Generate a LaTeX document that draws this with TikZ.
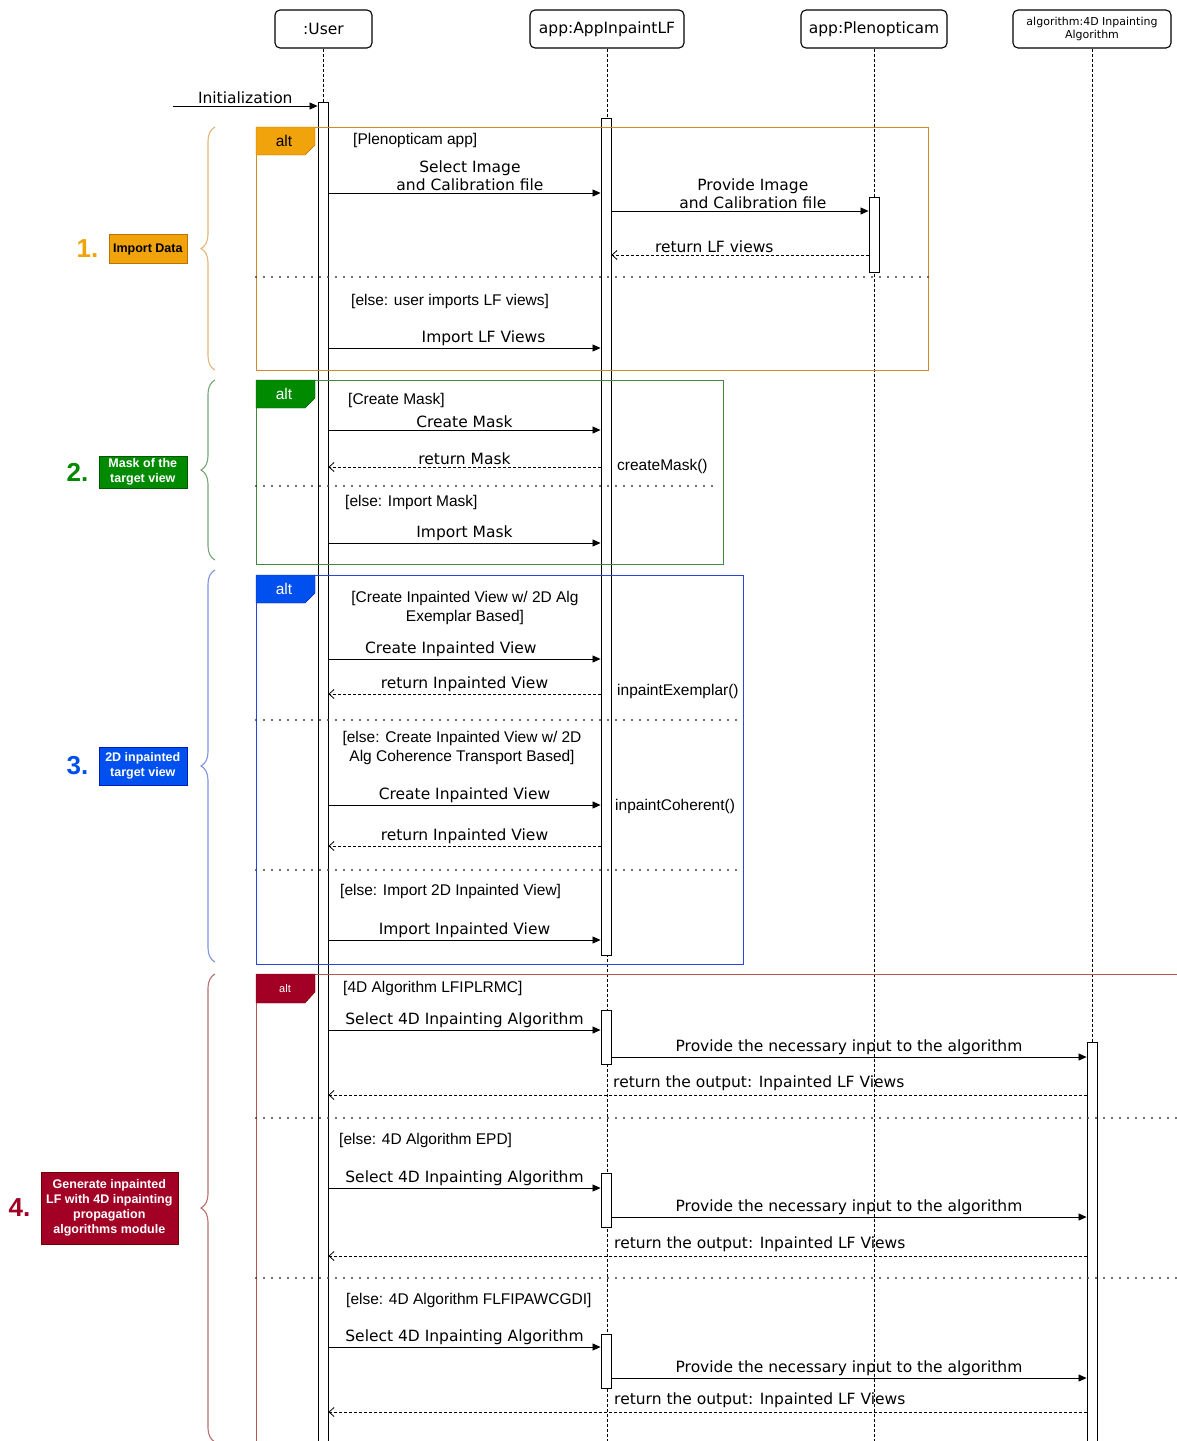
\documentclass[tikz,border=0pt]{standalone}
\usepackage{fontspec}
\setmainfont{DejaVu Sans}
\newfontfamily\arialfont{Liberation Sans}
\usetikzlibrary{arrows.meta,decorations.pathreplacing,positioning}

\definecolor{orgfill}{HTML}{F0A30A}
\definecolor{orgtab}{HTML}{BD7000}
\definecolor{orgline}{HTML}{D08A2A}
\definecolor{orgbrace}{HTML}{E2B677}
\definecolor{grnfill}{HTML}{008A00}
\definecolor{grntab}{HTML}{005700}
\definecolor{grnline}{HTML}{3F8A3F}
\definecolor{grnbrace}{HTML}{76A676}
\definecolor{blufill}{HTML}{0050EF}
\definecolor{blutab}{HTML}{001DBC}
\definecolor{bluline}{HTML}{2A45D8}
\definecolor{blubrace}{HTML}{7F93E2}
\definecolor{redfill}{HTML}{A20025}
\definecolor{redtab}{HTML}{6F0000}
\definecolor{redline}{HTML}{B85450}
\definecolor{redbrace}{HTML}{B87070}

\tikzset{
  head/.style={draw, line width=1.1pt, rounded corners=5pt, minimum height=38pt, inner sep=2pt,
    font=\fontsize{15.5}{18}\selectfont},
  life/.style={dash pattern=on 3pt off 2pt, line width=0.7pt},
  act/.style={draw, fill=white, minimum width=10pt, inner sep=0pt, line width=0.9pt},
  msg/.style={line width=0.8pt, -{Triangle[length=8pt,width=7pt]}},
  ret/.style={line width=0.8pt, dash pattern=on 3pt off 2pt, -{Straight Barb[length=5pt,width=9pt]}},
  lbl/.style={font=\fontsize{15.5}{18}\selectfont, align=center, inner sep=2pt},
  grd/.style={font=\arialfont\fontsize{15.5}{19.5}\selectfont, align=center, inner sep=0pt},
  sep/.style={line width=2.2pt, dash pattern=on 0pt off 8pt, line cap=round, black!75},
  frame/.style={line width=0.8pt},
  tab/.style={font=\arialfont\fontsize{15.5}{18}\selectfont},
  groupbox/.style={font=\arialfont\bfseries\fontsize{12.5}{15}\selectfont, align=center,
    inner sep=2pt, text=white, anchor=east},
  num/.style={font=\arialfont\bfseries\fontsize{26}{30}\selectfont, inner sep=0pt},
  grpbrace/.style={decorate, decoration={brace, amplitude=14pt}, line width=1.1pt},
}

\begin{document}
\begin{tikzpicture}[x=1pt, y=-1pt]
	\path[use as bounding box] (0,0) rectangle (1177,1441);
	\clip (0,0) rectangle (1177,1441);

	% lifeline heads
	\node[head, minimum width=97pt] (user) at (323.5,29) {:User};
	\node[head, minimum width=154pt] (app) at (607,29) {app:AppInpaintLF};
	\node[head, minimum width=146pt] (pleno) at (874,29) {app:Plenopticam};
	\node[head, minimum width=158pt, font=\fontsize{11}{13}\selectfont, align=center] (algo) at (1092,29) {algorithm:4D Inpainting\\Algorithm};

	\foreach \h in {user,app,pleno,algo}
		\draw[life] (\h.south) -- (\h.south |- 0,1450);

	% activation bars
	\node[act, anchor=north, minimum height=1350pt] (ua) at (323,102) {};
	\node[act, anchor=north, minimum height=837pt] (aa) at (606,118) {};
	\node[act, anchor=north, minimum height=75pt] (pa) at (874,197) {};
	\node[act, anchor=north, minimum height=410pt] (ga) at (1092,1042) {};
	\node[act, anchor=north, minimum height=54pt] (aa1) at (606,1010) {};
	\node[act, anchor=north, minimum height=54pt] (aa2) at (606,1173) {};
	\node[act, anchor=north, minimum height=54pt] (aa3) at (606,1334) {};

	% frames
	\draw[frame, orgline] (256,127) rectangle (928,370);
	\draw[frame, grnline] (256,380) rectangle (723,564);
	\draw[frame, bluline] (256,575) rectangle (743,964);
	\draw[frame, redline] (1190,974) -- (256,974) -- (256,1450);

	\filldraw[fill=orgfill, draw=orgtab] (256,127) -- (315,127) -- (315,145) -- (305,155) -- (256,155) -- cycle;
	\node[tab] at (284,141) {alt};
	\filldraw[fill=grnfill, draw=grntab] (256,380) -- (315,380) -- (315,398) -- (305,408) -- (256,408) -- cycle;
	\node[tab, text=white] at (284,394) {alt};
	\filldraw[fill=blufill, draw=blutab] (256,575) -- (315,575) -- (315,593) -- (305,603) -- (256,603) -- cycle;
	\node[tab, text=white] at (284,589) {alt};
	\filldraw[fill=redfill, draw=redtab] (256,974) -- (315,974) -- (315,992) -- (305,1003) -- (256,1003) -- cycle;
	\node[tab, text=white, font=\arialfont\fontsize{11}{13}\selectfont] at (285,988.5) {alt};

	\draw[sep] (256,277) -- (928,277);
	\draw[sep] (256,486) -- (718,486);
	\draw[sep] (256,720) -- (737,720);
	\draw[sep] (256,870) -- (737,870);
	\draw[sep] (256,1118) -- (1177,1118);
	\draw[sep] (256,1278) -- (1177,1278);

	% guards
	\node[grd, anchor=west] at (353,140) {[Plenopticam app]};
	\node[grd, anchor=west] at (351,301) {[else: user imports LF views]};
	\node[grd, anchor=west] at (348,400) {[Create Mask]};
	\node[grd, anchor=west] at (345,502) {[else: Import Mask]};
	\node[grd] at (465,608) {[Create Inpainted View w/ 2D Alg\\Exemplar Based]};
	\node[grd] at (462,748) {[else: Create Inpainted View w/ 2D\\Alg Coherence Transport Based]};
	\node[grd, anchor=west] at (340,891) {[else: Import 2D Inpainted View]};
	\node[grd, anchor=west] at (343,988) {[4D Algorithm LFIPLRMC]};
	\node[grd, anchor=west] at (339,1140) {[else: 4D Algorithm EPD]};
	\node[grd, anchor=west] at (346,1300) {[else: 4D Algorithm FLFIPAWCGDI]};

	\node[grd, anchor=west] at (617,466) {createMask()};
	\node[grd, anchor=west] at (617,691) {inpaintExemplar()};
	\node[grd, anchor=west] at (615,806) {inpaintCoherent()};

	% messages
	\coordinate (init) at (173,106);
	\draw[msg] (init) -- (ua.west |- init) node[lbl, midway, above] {Initialization};

	\draw[msg] (ua.east |- 0,193) -- (aa.west |- 0,193) node[lbl, pos=0.52, above] {Select Image\\and Calibration file};
	\draw[msg] (aa.east |- 0,211) -- (pa.west |- 0,211) node[lbl, pos=0.55, above] {Provide Image\\and Calibration file};
	\draw[ret] (pa.west |- 0,255) -- (aa.east |- 0,255) node[lbl, pos=0.6, above] {return LF views};
	\draw[msg] (ua.east |- 0,348) -- (aa.west |- 0,348) node[lbl, pos=0.57, above] {Import LF Views};

	\draw[msg] (ua.east |- 0,430) -- (aa.west |- 0,430) node[lbl, midway, above] {Create Mask};
	\draw[ret] (aa.west |- 0,467) -- (ua.east |- 0,467) node[lbl, midway, above] {return Mask};
	\draw[msg] (ua.east |- 0,543) -- (aa.west |- 0,543) node[lbl, midway, above] {Import Mask};

	\draw[msg] (ua.east |- 0,659) -- (aa.west |- 0,659) node[lbl, pos=0.45, above] {Create Inpainted View};
	\draw[ret] (aa.west |- 0,694) -- (ua.east |- 0,694) node[lbl, midway, above] {return Inpainted View};
	\draw[msg] (ua.east |- 0,805) -- (aa.west |- 0,805) node[lbl, midway, above] {Create Inpainted View};
	\draw[ret] (aa.west |- 0,846) -- (ua.east |- 0,846) node[lbl, midway, above] {return Inpainted View};
	\draw[msg] (ua.east |- 0,940) -- (aa.west |- 0,940) node[lbl, midway, above] {Import Inpainted View};

	\draw[msg] (ua.east |- 0,1030) -- (aa1.west |- 0,1030) node[lbl, midway, above] {Select 4D Inpainting Algorithm};
	\draw[msg] (aa1.east |- 0,1057) -- (ga.west |- 0,1057) node[lbl, midway, above] {Provide the necessary input to the algorithm};
	\draw[ret] (ga.west |- 0,1095) -- (ua.east |- 0,1095);
	\node[lbl, anchor=south west] at (611,1093) {return the output: Inpainted LF Views};

	\draw[msg] (ua.east |- 0,1188) -- (aa2.west |- 0,1188) node[lbl, midway, above] {Select 4D Inpainting Algorithm};
	\draw[msg] (aa2.east |- 0,1217) -- (ga.west |- 0,1217) node[lbl, midway, above] {Provide the necessary input to the algorithm};
	\draw[ret] (ga.west |- 0,1256) -- (ua.east |- 0,1256);
	\node[lbl, anchor=south west] at (612,1254) {return the output: Inpainted LF Views};

	\draw[msg] (ua.east |- 0,1347) -- (aa3.west |- 0,1347) node[lbl, midway, above] {Select 4D Inpainting Algorithm};
	\draw[msg] (aa3.east |- 0,1378) -- (ga.west |- 0,1378) node[lbl, midway, above] {Provide the necessary input to the algorithm};
	\draw[ret] (ga.west |- 0,1412) -- (ua.east |- 0,1412);
	\node[lbl, anchor=south west] at (612,1410) {return the output: Inpainted LF Views};

	% groups on the left
	\draw[grpbrace, orgbrace] (215,370) -- (215,127);
	\draw[grpbrace, grnbrace] (215,560) -- (215,380);
	\draw[grpbrace, blubrace] (215,962) -- (215,570);
	\draw[grpbrace, redbrace] (215,1442) -- (215,974);

	\node[groupbox, fill=orgfill, draw=orgtab, text=black, minimum width=78pt, minimum height=29pt] (g1) at (187,249) {Import Data};
	\node[num, text=orgfill, left=10pt of g1] {1.};
	\node[groupbox, fill=grnfill, draw=grntab, minimum width=88pt, minimum height=32pt] (g2) at (187,472) {Mask of the\\target view};
	\node[num, text=grnfill, left=10pt of g2] {2.};
	\node[groupbox, fill=blufill, draw=blutab, minimum width=88pt, minimum height=38pt] (g3) at (187,766) {2D inpainted\\target view};
	\node[num, text=blufill, left=10pt of g3] {3.};
	\node[groupbox, fill=redfill, draw=redtab, minimum width=137pt, minimum height=72pt] (g4) at (178,1208) {Generate inpainted\\LF with 4D inpainting\\propagation\\algorithms module};
	\node[num, text=redfill, left=10pt of g4] {4.};
\end{tikzpicture}
\end{document}
